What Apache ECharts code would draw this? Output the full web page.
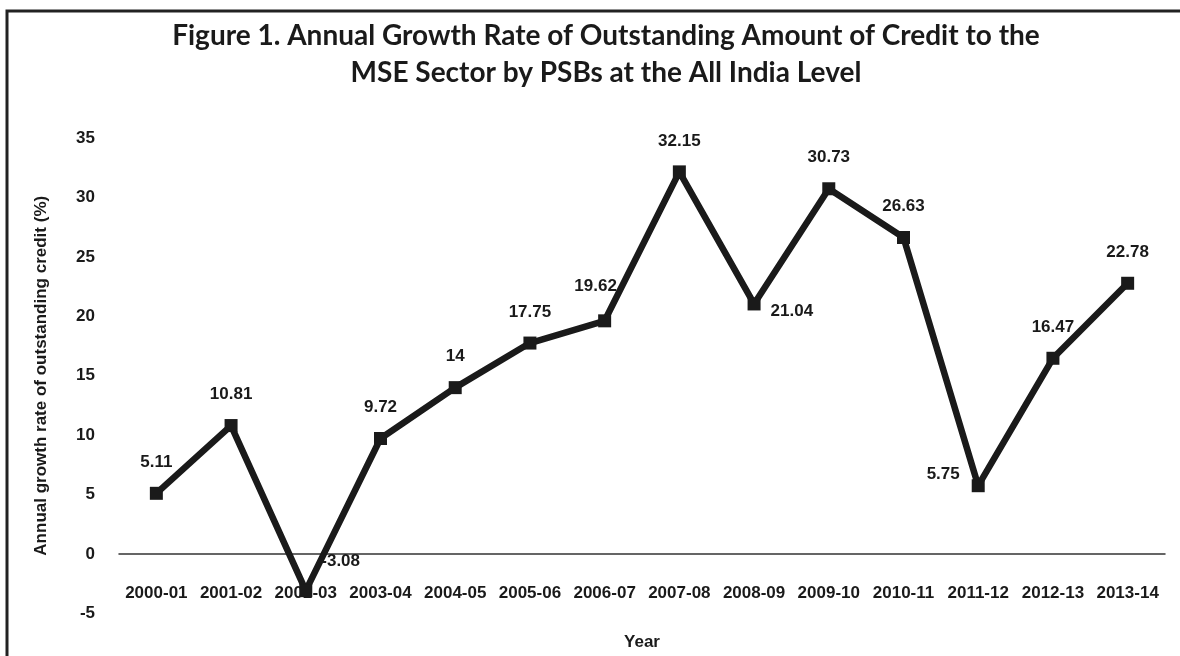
<!DOCTYPE html>
<html>
<head>
<meta charset="utf-8">
<script src="https://cdn.jsdelivr.net/npm/echarts@6/dist/echarts.min.js"></script>
<style>
html,body{margin:0;padding:0;background:#fff;}
#chart{width:1180px;height:656px;}
</style>
</head>
<body>
<div id="chart"></div>
<script>
const titleLines = ["Figure 1. Annual Growth Rate of Outstanding Amount of Credit to the", "MSE Sector by PSBs at the All India Level"];
const categories = ["2000-01","2001-02","2002-03","2003-04","2004-05","2005-06","2006-07","2007-08","2008-09","2009-10","2010-11","2011-12","2012-13","2013-14"];
const growth = [5.11, 10.81, -3.08, 9.72, 14, 17.75, 19.62, 32.15, 21.04, 30.73, 26.63, 5.75, 16.47, 22.78];
const yTicks = {min: -5, max: 35, interval: 5};
const yName = "Annual growth rate of outstanding credit (%)";
const xName = "Year";

const sans = '"Liberation Sans", Arial, sans-serif';
const ink = '#1a1a1a';

// per-point label placement (styles only)
const labelPlace = {
  2: {position: 'right', distance: 6, offset: [3, -29]},
  6: {position: 'top', distance: 20, offset: [-9, 0]},
  8: {position: 'right', distance: 10, offset: [0, 7]},
  11: {position: 'left', distance: 12, offset: [0, -11]}
};
const seriesData = growth.map((v, i) => {
  const d = {value: v};
  if (labelPlace[i]) d.label = labelPlace[i];
  return d;
});

const chart = echarts.init(document.getElementById('chart'));
chart.setOption({
  backgroundColor: '#fff',
  animation: false,
  title: {
    text: titleLines.join('\n'),
    left: 601, top: 12, textAlign: 'center',
    textStyle: {fontFamily: 'Lato, "Open Sans", sans-serif', fontWeight: 'bold', fontSize: 28, lineHeight: 37, color: '#1a1a1a'}
  },
  graphic: [{
    type: 'rect', shape: {x: 7, y: 11, width: 1200, height: 700},
    style: {fill: 'none', stroke: '#222', lineWidth: 3}, silent: true
  }],
  grid: {left: 119, right: 15, top: 138, bottom: 42.5, containLabel: false, outerBoundsMode: 'none'},
  xAxis: {
    type: 'category', data: categories, boundaryGap: true,
    axisLine: {onZero: true, lineStyle: {color: '#333', width: 1.5}},
    axisTick: {show: false},
    axisLabel: {interval: 0, margin: -29, color: ink, fontFamily: sans, fontWeight: 'bold', fontSize: 17},
    name: xName, nameLocation: 'middle', nameGap: 20,
    nameTextStyle: {color: ink, fontFamily: sans, fontWeight: 'bold', fontSize: 17}
  },
  yAxis: {
    type: 'value', min: yTicks.min, max: yTicks.max, interval: yTicks.interval,
    axisLine: {show: false}, axisTick: {show: false}, splitLine: {show: false},
    axisLabel: {margin: 24, color: ink, fontFamily: sans, fontWeight: 'bold', fontSize: 17},
    name: yName, nameLocation: 'middle', nameGap: 69, nameRotate: 90,
    nameTextStyle: {color: ink, fontFamily: sans, fontWeight: 'bold', fontSize: 17}
  },
  series: [{
    type: 'line', data: seriesData,
    symbol: 'rect', symbolSize: 13,
    lineStyle: {color: ink, width: 6.5},
    itemStyle: {color: ink},
    label: {show: true, position: 'top', distance: 16, color: ink, fontFamily: sans, fontWeight: 'bold', fontSize: 17}
  }]
});
</script>
</body>
</html>
